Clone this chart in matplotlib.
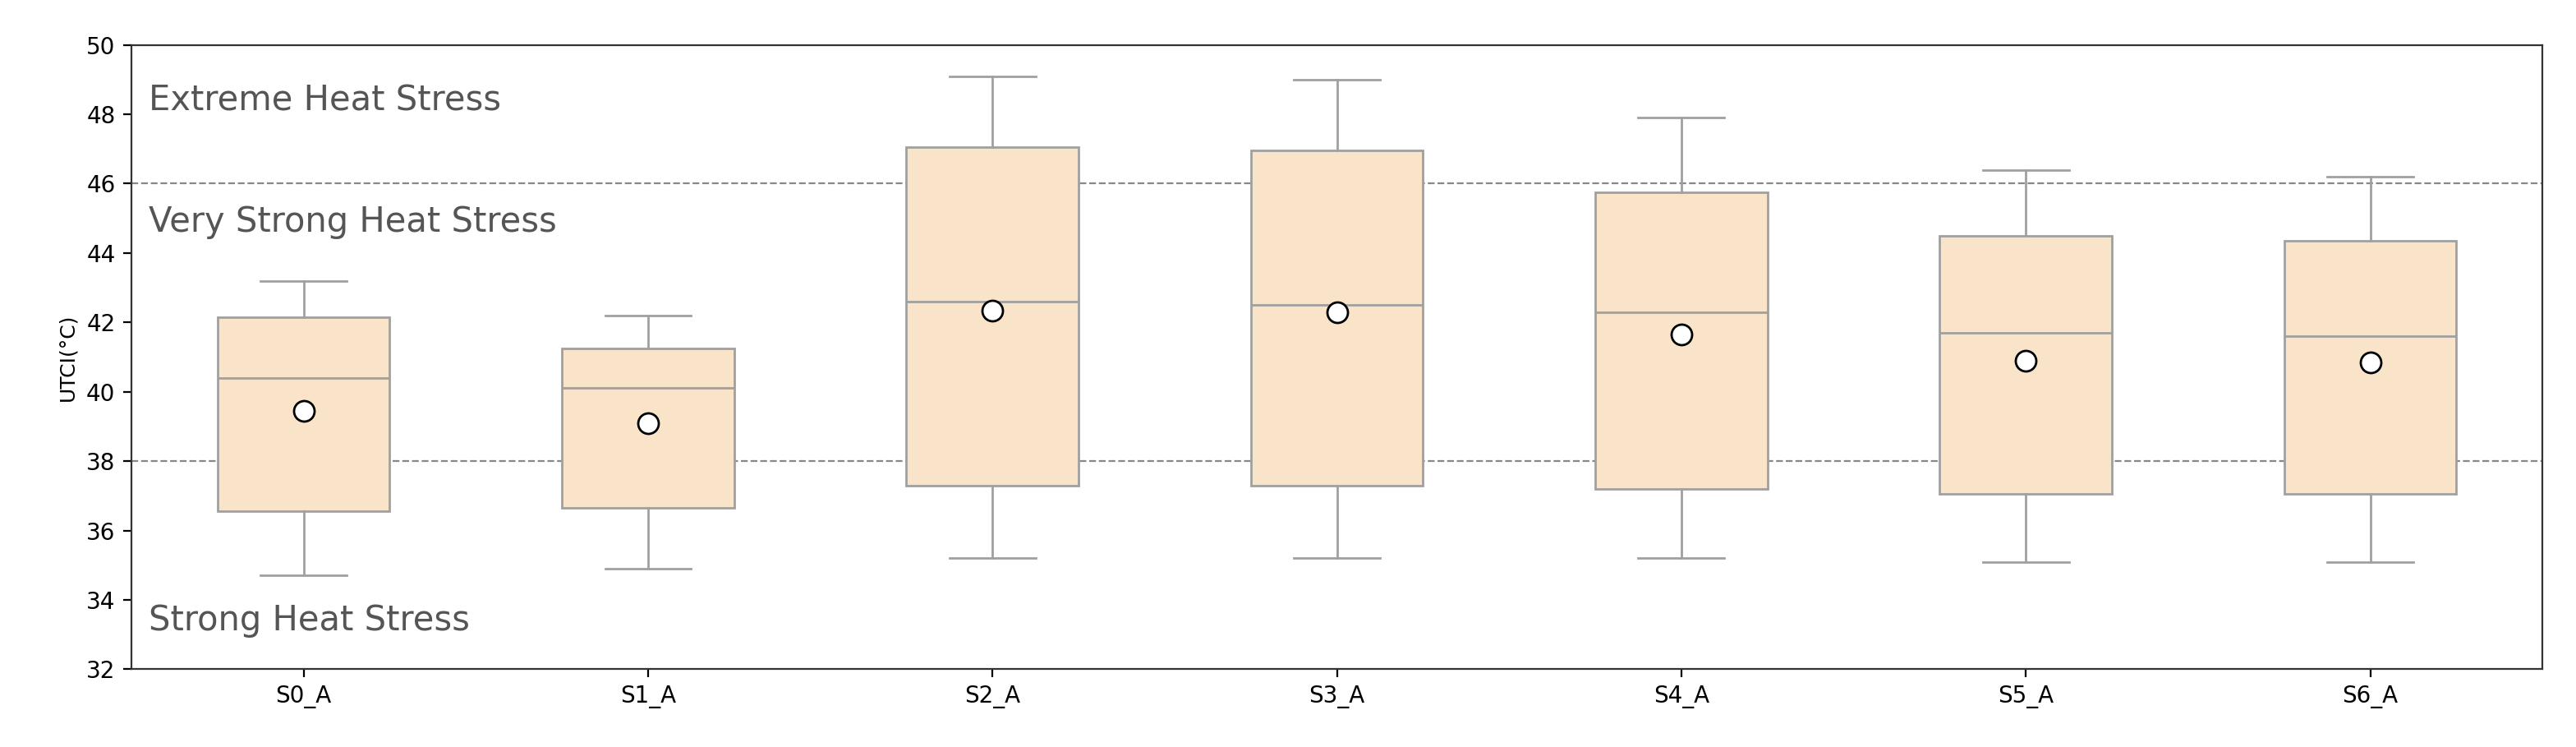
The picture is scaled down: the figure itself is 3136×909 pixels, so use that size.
import matplotlib
matplotlib.use("Agg")
import matplotlib.pyplot as plt

labels = ["S0_A", "S1_A", "S2_A", "S3_A", "S4_A", "S5_A", "S6_A"]
whislo = [34.7, 34.9, 35.2, 35.2, 35.2, 35.1, 35.1]
q1 = [36.55, 36.65, 37.3, 37.3, 37.2, 37.05, 37.05]
med = [40.4, 40.1, 42.6, 42.5, 42.3, 41.7, 41.6]
q3 = [42.15, 41.25, 47.05, 46.95, 45.75, 44.5, 44.35]
whishi = [43.2, 42.2, 49.1, 49.0, 47.9, 46.4, 46.2]
means = [39.45, 39.1, 42.35, 42.3, 41.65, 40.9, 40.85]

zones = [(48.4, "Extreme Heat Stress"), (44.9, "Very Strong Heat Stress"), (33.4, "Strong Heat Stress")]
thresholds = [38, 46]

fig = plt.figure(figsize=(15.68, 4.545), dpi=200)
ax = fig.add_axes([0.051, 0.104, 0.936, 0.836])

stats = []
for i, lab in enumerate(labels):
    stats.append({"label": lab, "whislo": whislo[i], "q1": q1[i], "med": med[i],
                  "q3": q3[i], "whishi": whishi[i], "mean": means[i], "fliers": []})

grey = "#a0a0a0"
ax.bxp(stats, positions=range(1, 8), widths=0.5, patch_artist=True, showmeans=True,
       boxprops=dict(facecolor="#f9e3c9", edgecolor=grey, linewidth=1.0),
       medianprops=dict(color=grey, linewidth=1.0),
       whiskerprops=dict(color=grey, linewidth=1.0),
       capprops=dict(color=grey, linewidth=1.0),
       meanprops=dict(marker="o", markerfacecolor="white", markeredgecolor="black",
                      markersize=9, markeredgewidth=1.0))

for t in thresholds:
    ax.axhline(t, color="#888888", linestyle="--", linewidth=0.8, zorder=0)

for y, txt in zones:
    ax.text(0.55, y, txt, fontsize=15, color="#555555", va="center", ha="left")

ax.set_xlim(0.5, 7.5)
ax.set_ylim(32, 50)
ax.set_yticks(range(32, 51, 2))
ax.set_ylabel("UTCI(°C)", fontsize=9)
ax.tick_params(labelsize=10)
for s in ax.spines.values():
    s.set_color("#333333")

fig.savefig("out.png", dpi=200)
